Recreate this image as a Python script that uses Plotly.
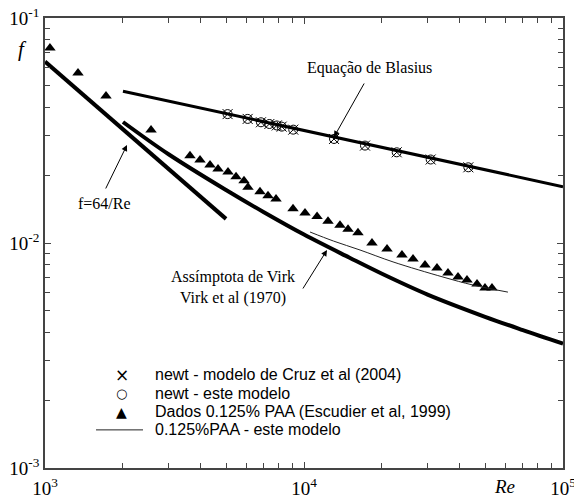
import plotly.graph_objects as go

# ---- data ----
re_lam = [1000, 5000]
f_lam = [0.064, 0.0128]

re_blasius = [2000, 100000]
f_blasius = [0.0473, 0.0178]

re_virk = [2000, 3000, 5000, 7000, 10000, 15000, 20000, 30000, 50000, 70000, 100000]
f_virk = [0.0345, 0.0248, 0.0172, 0.0137, 0.0109, 0.0086, 0.0073, 0.0059, 0.0047, 0.0041, 0.00357]

re_newt = [5070, 6060, 6820, 7350, 7850, 8200, 9090, 13060, 17200, 22800, 30840, 43100]
f_newt_cruz = [0.0374, 0.0356, 0.0344, 0.0338, 0.0333, 0.0329, 0.0319, 0.0290, 0.0271, 0.0253, 0.0235, 0.0217]
f_newt_model = [0.0374, 0.0356, 0.0344, 0.0338, 0.0333, 0.0329, 0.0319, 0.0290, 0.0271, 0.0253, 0.0235, 0.0217]

re_paa = [1045, 1341, 1720, 2567, 3629, 3967, 4336, 4656, 5088, 5465, 5866, 6077, 6762, 7261, 7798,
          9070, 10090, 11230, 12380, 13770, 14790, 16160, 18300, 20920, 23890, 26360, 29320, 32620,
          35970, 39320, 42590, 46560, 49980, 53190]
f_paa = [0.0736, 0.0569, 0.0450, 0.0318, 0.0244, 0.0234, 0.0222, 0.0213, 0.0207, 0.0197, 0.0189, 0.0177,
         0.0169, 0.0162, 0.0157, 0.0142, 0.0136, 0.0131, 0.0125, 0.0120, 0.0115, 0.0111, 0.0100, 0.0094,
         0.00885, 0.00849, 0.00798, 0.00774, 0.00736, 0.00706, 0.00685, 0.00657, 0.00631, 0.00631]

re_model = [10550, 13000, 16450, 22070, 34400, 45000, 61300]
f_model = [0.01119, 0.0102, 0.00931, 0.00824, 0.00706, 0.0065, 0.00605]

legend_labels = ["newt - modelo de Cruz et al (2004)", "newt - este modelo",
                 "Dados 0.125% PAA (Escudier et al, 1999)", "0.125%PAA - este modelo"]

x_tickvals = [1e3, 1e4, 1e5]
x_ticktext = ["10<sup>3</sup>", "10<sup>4</sup>", "10<sup>5</sup>"]
y_tickvals = [1e-3, 1e-2, 1e-1]
y_ticktext = ["10<sup>-3</sup>", "10<sup>-2</sup>", "10<sup>-1</sup>"]
x_minor = [2e3, 3e3, 4e3, 5e3, 6e3, 7e3, 8e3, 9e3, 2e4, 3e4, 4e4, 5e4, 6e4, 7e4, 8e4, 9e4]
y_minor = [2e-3, 3e-3, 4e-3, 5e-3, 6e-3, 7e-3, 8e-3, 9e-3, 2e-2, 3e-2, 4e-2, 5e-2, 6e-2, 7e-2, 8e-2, 9e-2]

serif = "Liberation Serif"
sans = "Liberation Sans"

fig = go.Figure()

fig.add_trace(go.Scatter(x=re_lam, y=f_lam, mode="lines", line=dict(color="black", width=4), showlegend=False))
fig.add_trace(go.Scatter(x=re_blasius, y=f_blasius, mode="lines", line=dict(color="black", width=3), showlegend=False))
fig.add_trace(go.Scatter(x=re_virk, y=f_virk, mode="lines", line=dict(color="black", width=4, shape="spline"),
                         showlegend=False))

fig.add_trace(go.Scatter(x=re_newt, y=f_newt_cruz, mode="markers", name=legend_labels[0], showlegend=False,
                         marker=dict(symbol="x-thin-open", size=10, color="black", line=dict(width=1, color="black"))))
fig.add_trace(go.Scatter(x=re_newt, y=f_newt_model, mode="markers", name=legend_labels[1], showlegend=False,
                         marker=dict(symbol="circle-open", size=9, color="black", line=dict(width=1, color="black"))))
fig.add_trace(go.Scatter(x=re_paa, y=f_paa, mode="markers", name=legend_labels[2], showlegend=False,
                         marker=dict(symbol="triangle-up", size=10, color="black")))
fig.add_trace(go.Scatter(x=re_model, y=f_model, mode="lines", name=legend_labels[3], showlegend=False,
                         line=dict(color="#222", width=1, shape="spline")))

ann_font = dict(family=serif, size=16, color="black")
annotations = [
    dict(x=4.2548, y=-1.222, xref="x", yref="y", text="Equação de Blasius", showarrow=False, font=ann_font,
         xanchor="center", yanchor="middle"),
    dict(x=3.2278, y=-1.8222, xref="x", yref="y", text="f=64/Re", showarrow=False, font=ann_font,
         xanchor="center", yanchor="middle"),
    dict(x=3.7259, y=-2.1956, xref="x", yref="y", text="Assímptota de Virk<br>Virk et al (1970)",
         showarrow=False, font=ann_font, xanchor="center", yanchor="middle"),
    # arrows
    dict(x=4.1158, y=-1.529, ax=4.2355, ay=-1.2844, xref="x", yref="y", axref="x", ayref="y", text="",
         showarrow=True, arrowhead=2, arrowsize=1.2, arrowwidth=1, arrowcolor="black"),
    dict(x=3.3166, y=-1.5644, ax=3.2317, ay=-1.7644, xref="x", yref="y", axref="x", ayref="y", text="",
         showarrow=True, arrowhead=2, arrowsize=1.2, arrowwidth=1, arrowcolor="black"),
    dict(x=4.0888, y=-2.0311, ax=3.9923, ay=-2.2089, xref="x", yref="y", axref="x", ayref="y", text="",
         showarrow=True, arrowhead=2, arrowsize=1.2, arrowwidth=1, arrowcolor="black"),
    # axis titles
    dict(x=-0.0444, y=0.93, xref="paper", yref="paper", text="<i>f</i>", showarrow=False,
         xanchor="center", yanchor="middle", font=dict(family=serif, size=21, color="black")),
    dict(x=0.888, y=-0.04, xref="paper", yref="paper", text="<i>Re</i>", showarrow=False,
         xanchor="center", yanchor="middle", font=dict(family=serif, size=19, color="black")),
]

# ---- custom legend (text + glyphs), laid out in paper coordinates ----
leg_rows = [0.2067, 0.1660, 0.1253, 0.0847]
leg_sym_x = 0.1486
leg_text_x = 0.2085
leg_font = dict(family=sans, size=16, color="black")
leg_glyphs = ["×", "○", "▲"]
leg_glyph_sizes = [17, 13, 14]
for i in range(3):
    annotations.append(dict(x=leg_sym_x, y=leg_rows[i], xref="paper", yref="paper", text=leg_glyphs[i],
                            showarrow=False, xanchor="center", yanchor="middle",
                            font=dict(family="DejaVu Sans", size=leg_glyph_sizes[i], color="black")))
for i in range(4):
    annotations.append(dict(x=leg_text_x, y=leg_rows[i], xref="paper", yref="paper", text=legend_labels[i],
                            showarrow=False, xanchor="left", yanchor="middle", font=leg_font))
shapes = [dict(type="line", xref="paper", yref="paper", x0=0.0985, x1=0.1892, y0=leg_rows[3], y1=leg_rows[3],
               line=dict(color="#222", width=1))]

axis_common = dict(
    type="log", showgrid=False, zeroline=False, showline=True, linecolor="#444", linewidth=1.5,
    mirror="allticks", ticks="inside", ticklen=6, tickcolor="#444", tickwidth=1, automargin=False,
    ticklabeloverflow="allow", tickfont=dict(family=serif, size=19, color="black"),
)

fig.update_xaxes(range=[3, 5], tickmode="array", tickvals=x_tickvals, ticktext=x_ticktext,
                 ticklabelstandoff=2,
                 minor=dict(tickmode="array", tickvals=x_minor, ticks="inside", ticklen=5, tickcolor="#444"),
                 **axis_common)
fig.update_yaxes(range=[-3, -1], tickmode="array", tickvals=y_tickvals, ticktext=y_ticktext,
                 minor=dict(tickmode="array", tickvals=y_minor, ticks="inside", ticklen=5, tickcolor="#444"),
                 **axis_common)

fig.update_layout(
    width=574, height=498,
    margin=dict(l=45, r=11, t=18, b=30),
    paper_bgcolor="white", plot_bgcolor="white",
    annotations=annotations, shapes=shapes,
    showlegend=False,
)

fig.write_html("out.html")
